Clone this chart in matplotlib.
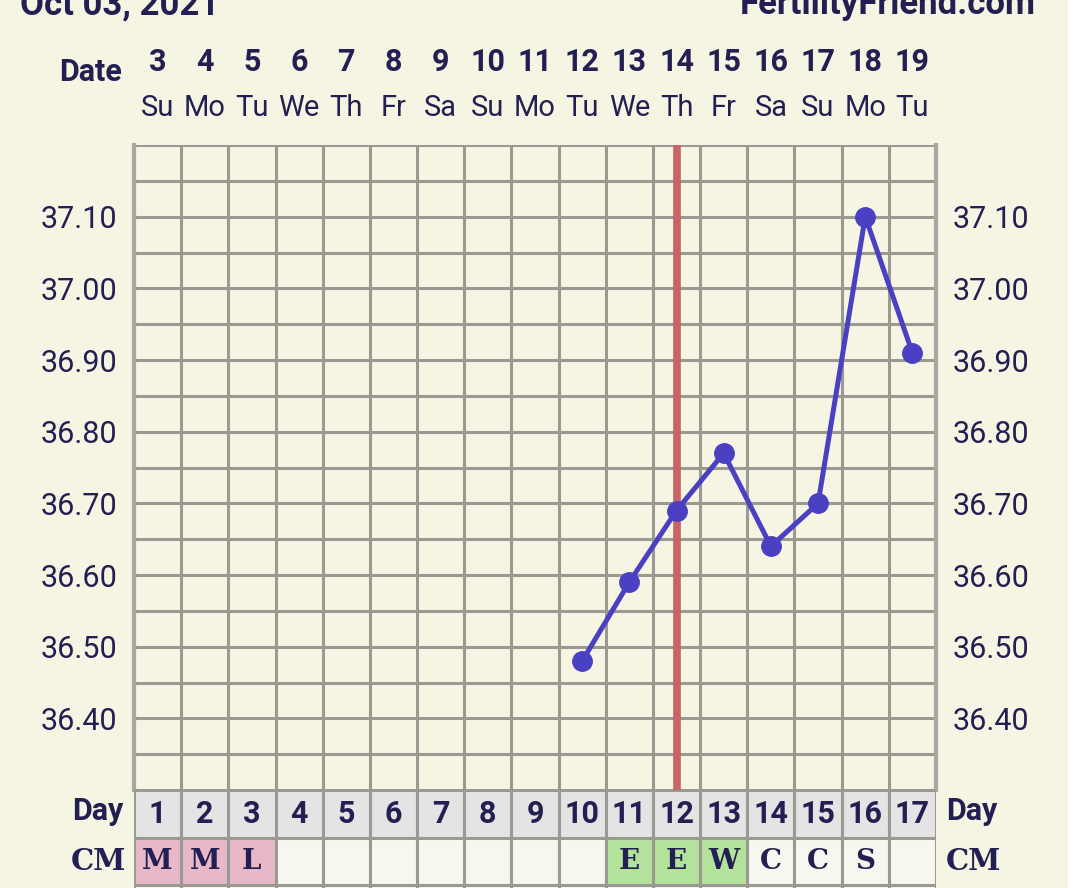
# BBT chart, FertilityFriend style
import numpy as np
import matplotlib.pyplot as plt
from matplotlib.transforms import blended_transform_factory

# data
dates = [3, 4, 5, 6, 7, 8, 9, 10, 11, 12, 13, 14, 15, 16, 17, 18, 19]
weekdays = ['Su', 'Mo', 'Tu', 'We', 'Th', 'Fr', 'Sa', 'Su', 'Mo', 'Tu',
            'We', 'Th', 'Fr', 'Sa', 'Su', 'Mo', 'Tu']
cycle_days = list(range(1, 18))
temp_days = [10, 11, 12, 13, 14, 15, 16, 17]
temps = [36.48, 36.59, 36.69, 36.77, 36.64, 36.70, 37.10, 36.91]
cm = ['M', 'M', 'L', '', '', '', '', '', '', '', 'E', 'E', 'W', 'C', 'C', 'S', '']
ovulation_day = 12
y_labels = [36.40, 36.50, 36.60, 36.70, 36.80, 36.90, 37.00, 37.10]

# colours
bg = '#f6f4e2'
ink = '#231f52'
gridc = '#9a9a92'
cm_colors = {'M': '#e8b8c8', 'L': '#e8b8c8', 'E': '#b3e29b', 'W': '#b3e29b'}

W, H = 1080, 888
fig = plt.figure(figsize=(W / 100, H / 100), dpi=100, facecolor=bg)
plt.rcParams['font.family'] = ['Roboto', 'DejaVu Sans']

def fx(px):
    return px / W

def fy(py):
    return 1 - py / H

# main temperature chart
left, right, top, bottom = 134, 936, 145, 790
ax = fig.add_axes([fx(left), fy(bottom), fx(right - left), (bottom - top) / H])
ax.set_facecolor(bg)
ax.set_xlim(0.5, 17.5)
ax.set_ylim(36.30, 37.20)

ax.set_xticks(np.arange(0.5, 17.6, 1), minor=True)
ax.set_yticks(np.arange(36.30, 37.21, 0.05), minor=True)
ax.set_xticks([])
ax.set_yticks(y_labels)
ax.grid(which='both', color=gridc, lw=2.2)
ax.set_yticklabels([f'{v:.2f}' for v in y_labels], fontsize=22, color=ink)
ax.tick_params(axis='y', which='both', length=0, pad=12, labelright=True)
ax.tick_params(axis='x', which='both', length=0)
for s in ['top', 'bottom']:
    ax.spines[s].set_visible(False)
for s in ['left', 'right']:
    ax.spines[s].set_color('#a8a8a0')
    ax.spines[s].set_linewidth(3)

ax.axvline(ovulation_day, color='#c86464', lw=5.5, zorder=3)
ax.plot(temp_days, temps, color='#4a40c2', lw=3.6, marker='o', ms=14, zorder=4)

# header: dates and weekdays
tr = blended_transform_factory(ax.transData, fig.transFigure)
for d, n, w in zip(cycle_days, dates, weekdays):
    ax.text(d, fy(62), str(n), transform=tr, ha='center', va='center',
            fontsize=22, fontweight='bold', color=ink)
    ax.text(d, fy(108), w, transform=tr, ha='center', va='center',
            fontsize=21, color=ink)
fig.text(fx(122), fy(72), 'Date', ha='right', va='center', fontsize=22,
         fontweight='bold', color=ink)

# title line (cut by top edge, as in the original screenshot)
fig.text(fx(20), fy(14), 'Oct 03, 2021', ha='left', va='baseline',
         fontsize=25, fontweight='bold', color=ink)
fig.text(fx(1036), fy(14), 'FertilityFriend.com', ha='right', va='baseline',
         fontsize=25, fontweight='bold', color=ink)

# Day / CM rows
tab = fig.add_axes([fx(left), 0, fx(right - left), (H - bottom) / H])
tab.set_xlim(0.5, 17.5)
tab.set_ylim(H - bottom, 0)
tab.axis('off')
row_h = 47.5
tab.bar(cycle_days, row_h, bottom=0, width=1, color='#e4e4e4',
        edgecolor=gridc, lw=2.2)
cell_colors = [cm_colors.get(c, '#f7f7f0') for c in cm]
tab.bar(cycle_days, row_h, bottom=row_h, width=1, color=cell_colors,
        edgecolor=gridc, lw=2.2)
tab.bar(cycle_days, row_h, bottom=2 * row_h, width=1, color='#f7f7f0',
        edgecolor=gridc, lw=2.2)
for d, c in zip(cycle_days, cm):
    tab.text(d, row_h / 2, str(d), ha='center', va='center', fontsize=22,
             fontweight='bold', color=ink)
    if c:
        tab.text(d, row_h * 1.5, c, ha='center', va='center', fontsize=20,
                 fontweight='bold', color=ink, family='DejaVu Serif')

fig.text(fx(124), fy(811), 'Day', ha='right', va='center', fontsize=22,
         fontweight='bold', color=ink)
fig.text(fx(946), fy(811), 'Day', ha='left', va='center', fontsize=22,
         fontweight='bold', color=ink)
fig.text(fx(126), fy(861), 'CM', ha='right', va='center', fontsize=21,
         fontweight='bold', color=ink, family='DejaVu Serif')
fig.text(fx(946), fy(861), 'CM', ha='left', va='center', fontsize=21,
         fontweight='bold', color=ink, family='DejaVu Serif')

# white strip at the right edge of the screenshot
fig.patches.append(plt.Rectangle((fx(1068), 0), 1, 1, transform=fig.transFigure,
                                 color='white', zorder=-1))

fig.savefig('out.png', dpi=100, facecolor=bg)
